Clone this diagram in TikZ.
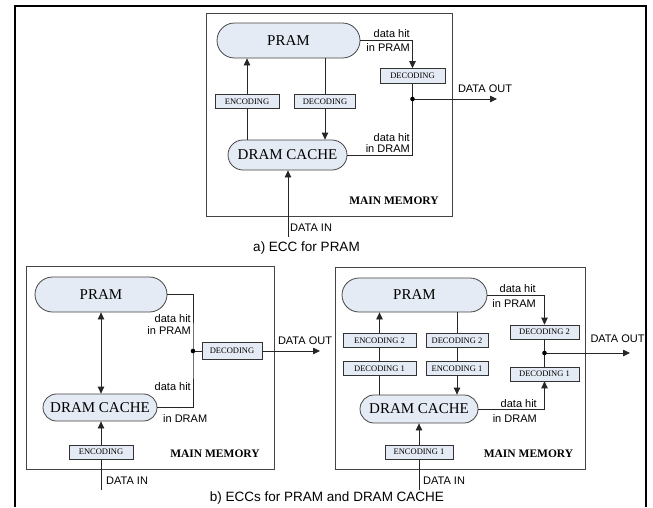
\documentclass[tikz,border=0pt]{standalone}
\usepackage{fontspec}
\setmainfont{Liberation Serif}
\setsansfont{Liberation Sans}
\usetikzlibrary{arrows.meta,shapes.misc}
\definecolor{cellfill}{HTML}{E5EBF4}
\definecolor{edge}{HTML}{444444}

\begin{document}
\begin{tikzpicture}[x=1pt,y=-1pt,
  memory/.style={draw=edge, line width=0.9pt, inner sep=0pt},
  store/.style={rounded rectangle, draw=edge, fill=cellfill, line width=0.8pt,
    inner sep=0pt, font=\fontsize{15}{17}\selectfont},
  codec/.style={draw=black!80, fill=cellfill, line width=0.7pt, inner sep=0pt,
    minimum height=13.5pt, font=\fontsize{8.5}{10}\selectfont},
  lbl/.style={font=\sffamily\fontsize{11}{12}\selectfont, inner sep=0pt},
  caption/.style={font=\sffamily\fontsize{13.5}{15}\selectfont, inner sep=0pt},
  tag/.style={font=\bfseries\fontsize{11.5}{13}\selectfont, inner sep=0pt},
  wire/.style={draw=black!85, line width=0.8pt},
  arr/.style={wire, -{Triangle[length=7pt,width=6.5pt]}},
  twoway/.style={wire, {Triangle[length=7pt,width=6.5pt]}-{Triangle[length=7pt,width=6.5pt]}},
  junction/.style={fill=black}
]
\useasboundingbox (0,0) rectangle (653,507);

% page frame
\draw[line width=2.3pt, line join=miter] (15,507) -- (15,6.2) -- (646,6.2) -- (646,507);

%% ---------- a) ECC for PRAM ----------
\node[memory, minimum width=246pt, minimum height=203pt] (memA) at (329,114.5) {};
\node[store, minimum width=143pt, minimum height=35pt] (pramA) at (288.5,40.5) {PRAM};
\node[store, minimum width=119pt, minimum height=30pt] (dramA) at (287.5,155) {DRAM CACHE};
\node[codec, minimum width=64pt] (encA) at (247,101.5) {ENCODING};
\node[codec, minimum width=61pt] (decA) at (325,101.5) {DECODING};
\node[codec, minimum width=65pt, minimum height=15pt] (decOutA) at (412.5,76) {DECODING};

\draw[wire] (encA.south |- dramA.north) -- (encA.south);
\draw[arr] (encA.north) -- (encA.north |- pramA.south);
\draw[wire] (decA.north |- pramA.south) -- (decA.north);
\draw[arr] (decA.south) -- (decA.south |- dramA.north);

\coordinate (jA) at (412.5,99);
\coordinate (outA) at (497,99);
\coordinate (inA) at (288,237);
\draw[arr] (pramA.east) -| (decOutA.north);
\draw[wire] (decOutA.south) -- (jA) |- (dramA.east);
\draw[arr] (jA) -- (outA);
\fill[junction] (jA) circle (2.3pt);
\draw[arr] (inA) -- (inA |- dramA.south);

\node[lbl, anchor=east] (hitPA) at (410,33.5) {data hit};
\node[lbl, anchor=east] (inPA) at (410,47.5) {in PRAM};
\node[lbl, anchor=east] (hitDA) at (410,137.5) {data hit};
\node[lbl, anchor=east] (inDA) at (410,148.5) {in DRAM};
\node[lbl] (doA) at (485,89) {DATA OUT};
\node[lbl, anchor=west] (diA) at (290,227.5) {DATA IN};
\node[tag] (mmA) at (394,200.5) {MAIN MEMORY};
\node[caption] (capA) at (306.5,248) {a) ECC for PRAM};

%% ---------- b) left: single ECC ----------
\node[memory, minimum width=248pt, minimum height=203pt] (memB) at (150,367.5) {};
\node[store, minimum width=132pt, minimum height=35pt] (pramB) at (101,294.5) {PRAM};
\node[store, minimum width=114pt, minimum height=27pt] (dramB) at (100,407.5) {DRAM CACHE};
\node[codec, minimum width=64pt, minimum height=14pt] (encB) at (101,452) {ENCODING};
\node[codec, minimum width=60pt, minimum height=17pt] (decB) at (232,351) {DECODING};

\draw[twoway] (pramB.south) -- (pramB.south |- dramB.north);
\coordinate (jB) at (193,351);
\coordinate (outB) at (320,351);
\coordinate (inB) at (101,490);
\draw[wire] (pramB.east) -| (jB) |- (dramB.east);
\draw[wire] (jB) -- (decB.west);
\draw[arr] (decB.east) -- (outB);
\fill[junction] (jB) circle (2.3pt);
\draw[wire] (inB) -- (encB.south);
\draw[arr] (encB.north) -- (encB.north |- dramB.south);

\node[lbl, anchor=east] (hitPB) at (191,319) {data hit};
\node[lbl, anchor=east] (inPB) at (191,331) {in PRAM};
\node[lbl, anchor=east] (hitDB) at (191,387) {data hit};
\node[lbl, anchor=west] (inDB) at (163,418.5) {in DRAM};
\node[lbl] (doB) at (305,341) {DATA OUT};
\node[lbl, anchor=west] (diB) at (106,480.5) {DATA IN};
\node[tag] (mmB) at (215,454) {MAIN MEMORY};

%% ---------- b) right: two ECCs ----------
\node[memory, minimum width=250pt, minimum height=202pt] (memC) at (460,368) {};
\node[store, minimum width=145pt, minimum height=34pt] (pramC) at (414.5,295) {PRAM};
\node[store, minimum width=118pt, minimum height=28pt] (dramC) at (419,409) {DRAM CACHE};
\node[codec, minimum width=73pt] (enc2C) at (379.5,340.5) {ENCODING 2};
\node[codec, minimum width=73pt] (dec1C) at (379.5,368.5) {DECODING 1};
\node[codec, minimum width=62pt] (dec2C) at (457,340.5) {DECODING 2};
\node[codec, minimum width=62pt] (enc1C) at (457,368.5) {ENCODING 1};
\node[codec, minimum width=69pt, minimum height=14pt] (dec2R) at (544.5,332) {DECODING 2};
\node[codec, minimum width=69pt, minimum height=14pt] (dec1R) at (544.5,374) {DECODING 1};
\node[codec, minimum width=68pt, minimum height=14pt] (encC) at (419,452) {ENCODING 1};

\draw[wire] (dec1C.south |- dramC.north) -- (dec1C.south);
\draw[wire] (dec1C.north) -- (enc2C.south);
\draw[arr] (enc2C.north) -- (enc2C.north |- pramC.south);
\draw[wire] (dec2C.north |- pramC.south) -- (dec2C.north);
\draw[wire] (dec2C.south) -- (enc1C.north);
\draw[arr] (enc1C.south) -- (enc1C.south |- dramC.north);

\coordinate (jC) at (544.5,353);
\coordinate (outC) at (630,353);
\coordinate (inC) at (419,490);
\draw[arr] (pramC.east) -| (dec2R.north);
\draw[arr] (dramC.east) -| (dec1R.south);
\draw[wire] (dec2R.south) -- (dec1R.north);
\draw[arr] (jC) -- (outC);
\fill[junction] (jC) circle (2.3pt);
\draw[wire] (inC) -- (encC.south);
\draw[arr] (encC.north) -- (encC.north |- dramC.south);

\node[lbl, anchor=east] (hitPC) at (536,289) {data hit};
\node[lbl, anchor=east] (inPC) at (536,304) {in PRAM};
\node[lbl, anchor=east] (hitDC) at (537,403.5) {data hit};
\node[lbl, anchor=east] (inDC) at (537,418.5) {in DRAM};
\node[lbl] (doC) at (617.5,339) {DATA OUT};
\node[lbl, anchor=west] (diC) at (423,480.5) {DATA IN};
\node[tag] (mmC) at (528.5,454) {MAIN MEMORY};

\node[caption] (capB) at (327,498) {b) ECCs for PRAM and DRAM CACHE};
\end{tikzpicture}
\end{document}
